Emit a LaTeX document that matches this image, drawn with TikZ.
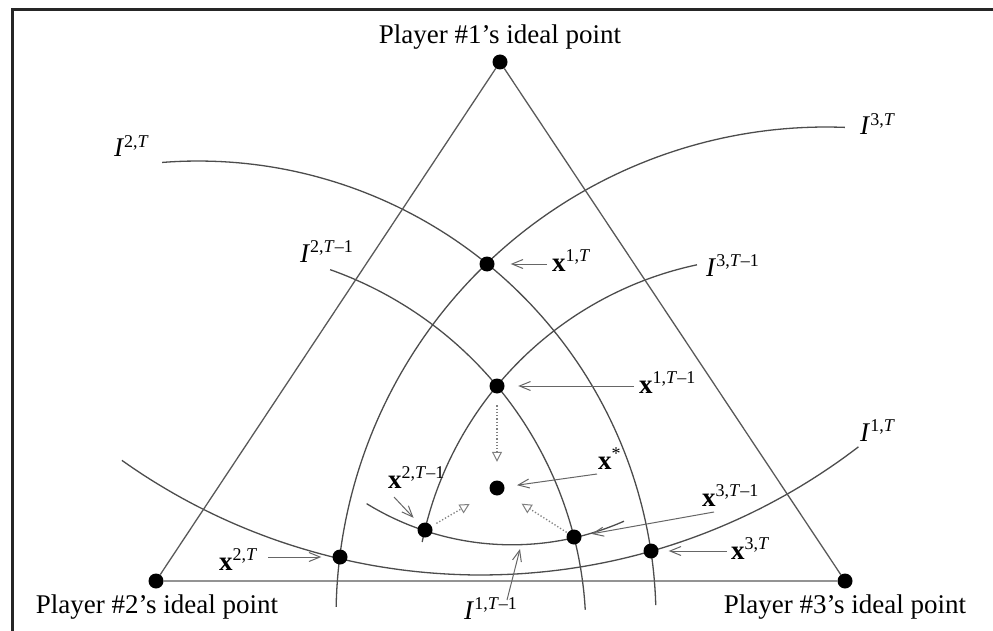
\documentclass[tikz,border=0pt]{standalone}
\usepackage{fontspec}
\setmainfont{Liberation Serif}
\usetikzlibrary{arrows.meta}
\newcommand\mysup[1]{\raisebox{9.5pt}{\fontsize{18}{18}\selectfont #1}}
\newcommand\vx[1]{\textbf{x}\mysup{#1}}
\newcommand\vI[1]{\textit{I}\mysup{#1}}
\newcommand\Tm{\textit{T}–1}
\begin{document}
\begin{tikzpicture}[x=1pt,y=-1pt,
  dot/.style={circle,fill=black,inner sep=0pt,minimum size=15pt},
  curve/.style={draw=black!70,line width=1.3pt},
  side/.style={draw=black!65,line width=1.3pt},
  lbl/.style={inner sep=0pt,anchor=base west,font=\fontsize{27}{32}\selectfont},
  plbl/.style={inner sep=0pt,font=\fontsize{27}{32}\selectfont},
  arr/.style={draw=black!60,line width=1pt,-{Straight Barb[length=11pt,width=9pt]}},
  darr/.style={draw=black!50,line width=1.3pt,dotted,-{Triangle[open,length=10pt,width=10pt,line width=1pt]}}]
\path[use as bounding box] (0,0) rectangle (993,631);
\draw[line width=3pt,black!85] (12,631) -- (12,10) -- (993,10);
% indifference curves (circular arcs)
\draw[curve] plot[domain=-94.5:-1.75,samples=90] ({198+458*cos(\x)},{619+458*sin(\x)});   % I^{2,T}
\draw[curve] plot[domain=-178.8:-87.8,samples=90] ({826+490*cos(\x)},{617+490*sin(\x)});  % I^{3,T}
\draw[curve] plot[domain=-70.46:-3.29,samples=80] ({201.6+384.3*cos(\x)},{631.8+384.3*sin(\x)}); % I^{2,T-1}
\draw[curve] plot[domain=-168.5:-102,samples=80] ({771+356*cos(\x)},{613+356*sin(\x)});   % I^{3,T-1}
\draw[curve] plot[domain=52.5:125.4,samples=90] ({481+620*cos(\x)},{-45+620*sin(\x)});     % I^{1,T}
\draw[curve] plot[domain=66.2:121.6,samples=70] ({512+277.5*cos(\x)},{267.3+277.5*sin(\x)}); % I^{1,T-1}
% ideal points and triangle
\node[dot] (P1) at (500,62) {};
\node[dot] (P2) at (156,581) {};
\node[dot] (P3) at (845,581) {};
\draw[side] (P1) -- (P2) -- (P3) -- (P1);
% points
\node[dot] (x1T) at (487,264) {};
\node[dot] (x1T1) at (497,386) {};
\node[dot] (xs) at (497,488) {};
\node[dot] (x2T1) at (425,530) {};
\node[dot] (x3T1) at (574,537) {};
\node[dot] (x2T) at (340,557) {};
\node[dot] (x3T) at (651,551) {};
% player labels
\node[plbl] (L1) at (500,37) {Player \#1’s ideal point};
\node[plbl] (L2) at (157,607) {Player \#2’s ideal point};
\node[plbl] (L3) at (845,607) {Player \#3’s ideal point};
% curve labels
\node[lbl] (I2T) at (114,157) {\vI{2,\textit{T}}};
\node[lbl] (I2T1) at (300,262) {\vI{2,\Tm}};
\node[lbl] (I3T) at (860,135) {\vI{3,\textit{T}}};
\node[lbl] (I3T1) at (706,276) {\vI{3,\Tm}};
\node[lbl] (I1T) at (860,441) {\vI{1,\textit{T}}};
\node[lbl] (I1T1) at (464,619) {\vI{1,\Tm}};
% point labels
\node[lbl] (lx1T) at (552,271) {\vx{1,\textit{T}}};
\node[lbl] (lx1T1) at (639,393) {\vx{1,\Tm}};
\node[lbl] (lxs) at (598,469) {\textbf{x}\mysup{*}};
\node[lbl] (lx2T1) at (388,488) {\vx{2,\Tm}};
\node[lbl] (lx3T1) at (702,506) {\vx{3,\Tm}};
\node[lbl] (lx2T) at (219,570) {\vx{2,\textit{T}}};
\node[lbl] (lx3T) at (731,559) {\vx{3,\textit{T}}};
% arrows
\coordinate (a1) at (547,264);
\coordinate (a2) at (634,386);
\coordinate (a3) at (597,474);
\coordinate (a4) at (394,497);
\coordinate (a5) at (714,512);
\coordinate (a6) at (268,557);
\coordinate (a7) at (727,551);
\coordinate (a8) at (507,600);
\coordinate (c11) at (520,549);
\draw[arr,shorten >=16pt] (a1) -- (x1T);
\draw[arr,shorten >=13.5pt] (a2) -- (x1T1);
\draw[arr,shorten >=12.5pt] (a3) -- (xs);
\draw[arr,shorten >=9pt] (a4) -- (x2T1);
\draw[arr,shorten >=10pt] (a5) -- (x3T1);
\draw[arr,shorten >=11pt] (a6) -- (x2T);
\draw[arr,shorten >=10pt] (a7) -- (x3T);
\draw[arr] (a8) -- (c11);
% dotted arrows towards x*
\draw[darr,shorten <=11.5pt,shorten >=18.5pt] (x1T1) -- (xs);
\draw[darr,shorten <=5.5pt,shorten >=24pt] (x2T1) -- (xs);
\draw[darr,shorten <=1pt,shorten >=21.5pt] (x3T1) -- (xs);
\end{tikzpicture}
\end{document}
